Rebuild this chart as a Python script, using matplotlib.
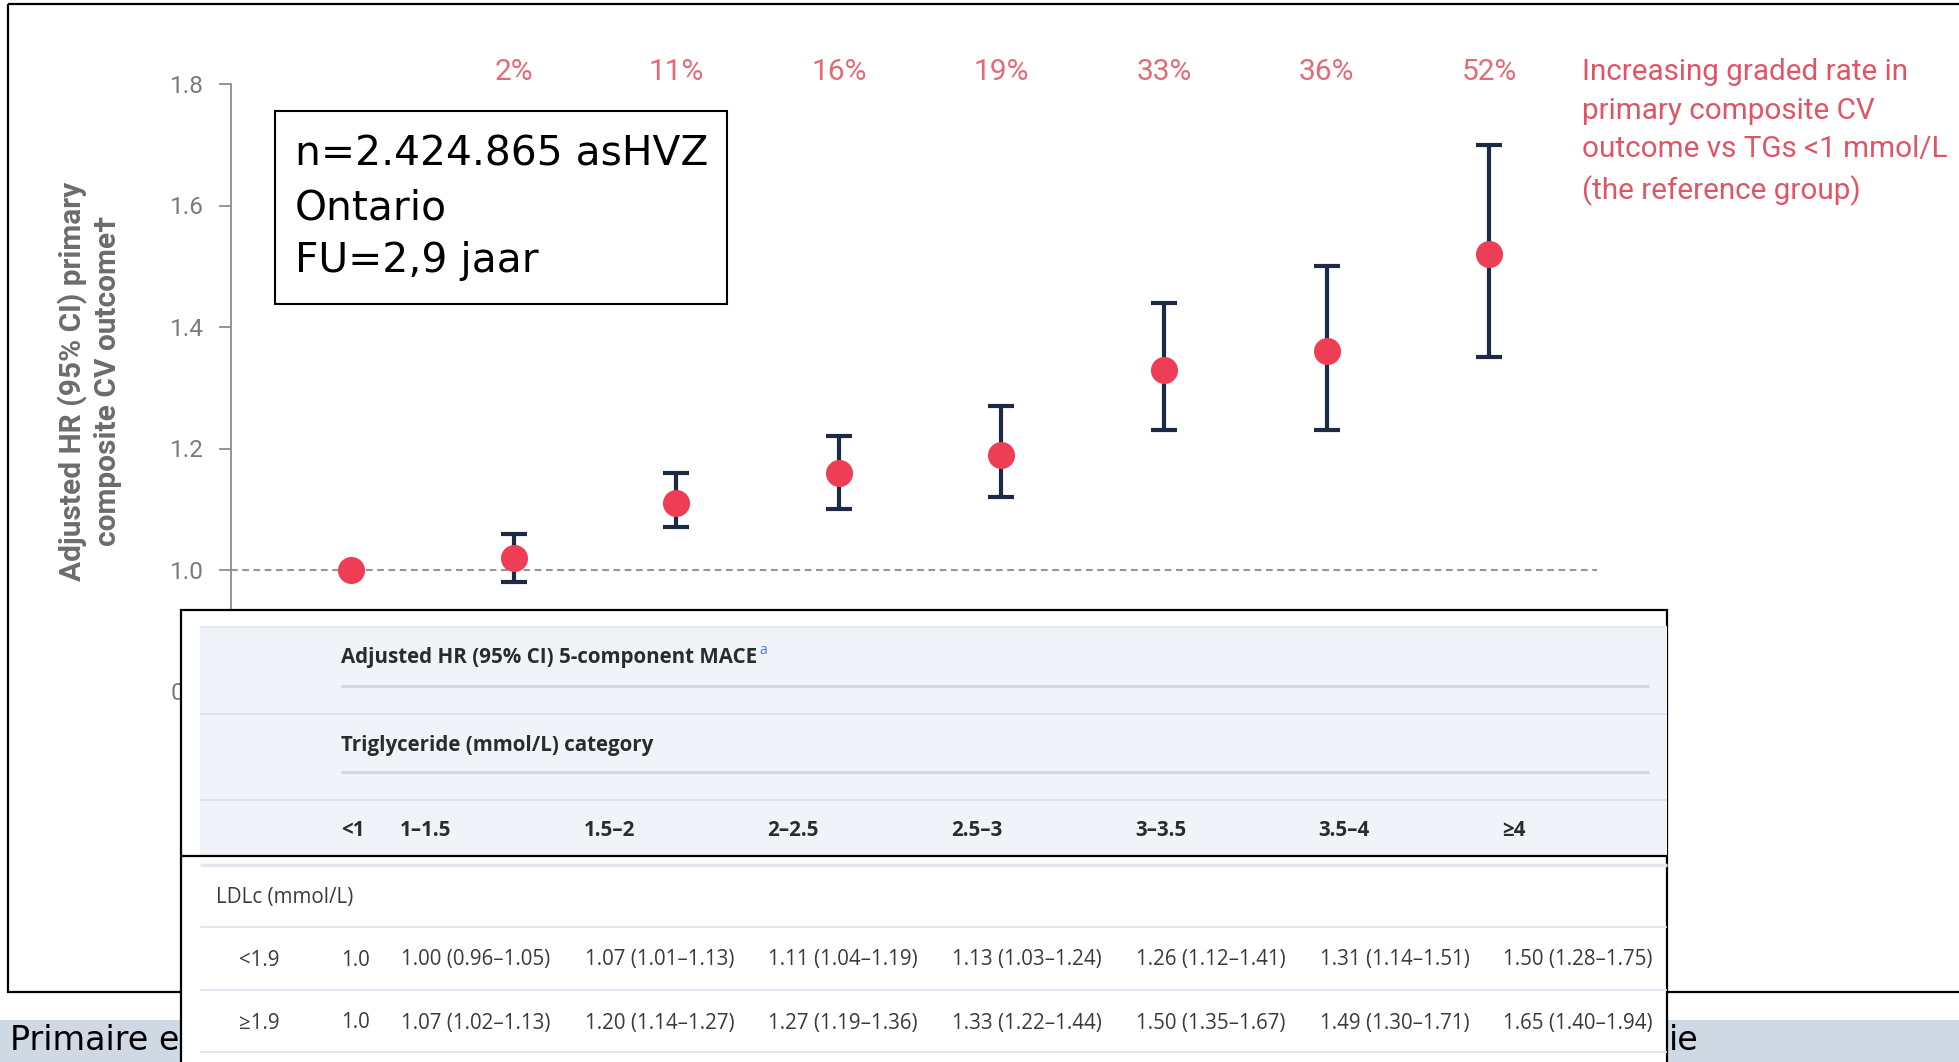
import math
import os
import matplotlib
matplotlib.use("Agg")
import matplotlib.pyplot as plt
from matplotlib import font_manager as fm
from matplotlib.patches import Rectangle
from matplotlib.transforms import blended_transform_factory

W, H, DPI = 1959, 1062, 100

# Triglyceride categories (mmol/L)
TG_CATEGORIES = ["<1", "1–1.5", "1.5–2", "2–2.5", "2.5–3", "3–3.5", "3.5–4", "≥4"]
# Adjusted HR (95% CI) for the primary composite CV outcome; <1 is the reference group
HR = [1.00, 1.02, 1.11, 1.16, 1.19, 1.33, 1.36, 1.52]
CI_LOW = [math.nan, 0.98, 1.07, 1.10, 1.12, 1.23, 1.23, 1.35]
CI_HIGH = [math.nan, 1.06, 1.16, 1.22, 1.27, 1.44, 1.50, 1.70]
REF_HR = 1.0
Y_TICKS = [0.8, 1.0, 1.2, 1.4, 1.6, 1.8]

INFO_LINES = ["n=2.424.865 asHVZ", "Ontario", "FU=2,9 jaar"]
NOTE_TEXT = "Increasing graded rate in\nprimary composite CV\noutcome vs TGs <1 mmol/L\n(the reference group)"
Y_LABEL = "Adjusted HR (95% CI) primary\ncomposite CV outcome†"

# Table: adjusted HR (95% CI) 5-component MACE by LDLc stratum
TABLE_TITLE = "Adjusted HR (95% CI) 5-component MACE"
TABLE_SUBTITLE = "Triglyceride (mmol/L) category"
LDL_HEADER = "LDLc (mmol/L)"
LDL_GROUPS = ["<1.9", "≥1.9"]
TABLE_REF = 1.0
MACE_HR = [
    [1.00, 1.07, 1.11, 1.13, 1.26, 1.31, 1.50],
    [1.07, 1.20, 1.27, 1.33, 1.50, 1.49, 1.65],
]
MACE_LOW = [
    [0.96, 1.01, 1.04, 1.03, 1.12, 1.14, 1.28],
    [1.02, 1.14, 1.19, 1.22, 1.35, 1.30, 1.40],
]
MACE_HIGH = [
    [1.05, 1.13, 1.19, 1.24, 1.41, 1.51, 1.75],
    [1.13, 1.27, 1.36, 1.44, 1.67, 1.71, 1.94],
]

FOOTER_LEFT = "Primaire e"
FOOTER_RIGHT = "ie"

RED = "#ee3e55"
NAVY = "#1d2a45"
PINK = "#e46a77"
GREY = "#7a7a7a"


def family_with_static_bold(candidates):
    """First candidate family that ships a separate (static) bold font file."""
    for fam in candidates:
        try:
            path = fm.findfont(fm.FontProperties(family=fam, weight="bold"), fallback_to_default=False)
        except Exception:
            continue
        base = os.path.basename(path).lower()
        if "bold" in base and "[" not in base:
            return fam
    return "DejaVu Sans"


CHART_FONT = ["Roboto", "DejaVu Sans"]
TABLE_FONT = [family_with_static_bold(["Noto Sans", "Open Sans", "Lato", "Roboto"]), "DejaVu Sans"]
BOX_FONT = ["DejaVu Sans"]

fig = plt.figure(figsize=(W / DPI, H / DPI), dpi=DPI)
fig.patch.set_facecolor("white")


def fx(px):
    return px / W


def fy(py):
    return 1 - py / H


# ---- background layer (pixel coordinates) ----
bg = fig.add_axes([0, 0, 1, 1], zorder=0)
bg.set_xlim(0, W)
bg.set_ylim(H, 0)
bg.axis("off")
bg.add_patch(Rectangle((8, 4), W, 988, fill=False, ec="black", lw=1.6))
bg.add_patch(Rectangle((0, 1020), W, 50, fc="#cfd9e4", ec="none"))
bg.text(10, 1041, FOOTER_LEFT, fontsize=24, va="center", ha="left", family=BOX_FONT, color="black")
bg.text(1669, 1041, FOOTER_RIGHT, fontsize=24, va="center", ha="left", family=BOX_FONT, color="black")

# ---- chart ----
X0_PX, X_STEP = 351, 162.6
Y1_PX, Y_UNIT = 570, 607.5
XLIM = (-0.738, 7.7)
YLIM = (0.75, 1.8)
left_px = X0_PX + XLIM[0] * X_STEP
right_px = X0_PX + XLIM[1] * X_STEP
top_px = Y1_PX - (YLIM[1] - 1) * Y_UNIT
bot_px = Y1_PX + (1 - YLIM[0]) * Y_UNIT
ax = fig.add_axes([fx(left_px), fy(bot_px), (right_px - left_px) / W, (bot_px - top_px) / H], zorder=1)
ax.patch.set_alpha(0)
ax.set_xlim(*XLIM)
ax.set_ylim(*YLIM)

xs = list(range(len(TG_CATEGORIES)))
idx = [i for i in xs if not math.isnan(CI_LOW[i])]
ax.hlines(REF_HR, XLIM[0], 7.663, colors="#8f96a3", linestyles=(0, (3.2, 2.2)), lw=1.5, zorder=1)
ax.errorbar([xs[i] for i in idx], [HR[i] for i in idx],
            yerr=[[HR[i] - CI_LOW[i] for i in idx], [CI_HIGH[i] - HR[i] for i in idx]],
            fmt="none", ecolor=NAVY, elinewidth=3.0, capsize=9.7, capthick=3.0, zorder=2)
ax.plot(xs, HR, "o", ms=19.5, color=RED, mec="none", zorder=3)

for s in ("top", "right", "bottom"):
    ax.spines[s].set_visible(False)
ax.spines["left"].set_color("#8c8c8c")
ax.spines["left"].set_linewidth(1.3)
ax.set_xticks([])
ax.set_yticks(Y_TICKS)
ax.set_yticklabels([f"{t:.1f}" for t in Y_TICKS], family=CHART_FONT)
ax.tick_params(axis="y", direction="out", length=8.6, width=1.3, color="#8c8c8c",
               labelcolor=GREY, labelsize=17.5, pad=10.8)

pct_trans = blended_transform_factory(ax.transData, fig.transFigure)
for i in xs[1:]:
    ax.text(i, fy(72), f"{round((HR[i] - REF_HR) * 100)}%", transform=pct_trans,
            ha="center", va="center", color=PINK, fontsize=21.5, family=CHART_FONT, clip_on=False)

fig.text(fx(1582), fy(132), NOTE_TEXT, ha="left", va="center", linespacing=1.48,
         fontsize=21.3, color="#e05566", family=CHART_FONT)
fig.text(fx(90), fy(381), Y_LABEL, rotation=90, ha="center", va="center", multialignment="center",
         fontsize=21.5, fontweight="bold", color="#6c6c6c", linespacing=1.3, family=CHART_FONT)

# ---- overlay layer: info box and table ----
ov = fig.add_axes([0, 0, 1, 1], zorder=2)
ov.patch.set_alpha(0)
ov.set_xlim(0, W)
ov.set_ylim(H, 0)
ov.axis("off")

ov.add_patch(Rectangle((275, 111), 452, 193, fc="white", ec="black", lw=1.5))
ov.text(295, 208, "\n".join(INFO_LINES), ha="left", va="center", fontsize=29.3,
        linespacing=1.42, family=BOX_FONT, color="black")

T_LEFT, T_RIGHT, T_TOP = 181, 1667, 610
IN_LEFT = 200
ov.add_patch(Rectangle((T_LEFT, T_TOP), T_RIGHT - T_LEFT, H, fc="white", ec="black", lw=1.6, zorder=1))
ov.add_patch(Rectangle((IN_LEFT, 627), T_RIGHT - IN_LEFT, 856 - 627, fc="#f0f3f8", ec="none", zorder=1.1))

SEP = "#dde3ee"
ov.hlines(627, IN_LEFT, T_RIGHT, colors="#e4e8ef", lw=1.5, zorder=1.2)
ov.hlines([714, 800], IN_LEFT, T_RIGHT, colors=SEP, lw=1.3, zorder=1.2)
ov.hlines([686, 772], 341, 1649, colors="#d2d8e4", lw=2.2, zorder=1.2)
ov.hlines(865, IN_LEFT, T_RIGHT, colors="#e3e8f0", lw=2.5, zorder=1.2)
ov.hlines([927, 990, 1052], IN_LEFT, T_RIGHT, colors=SEP, lw=1.3, zorder=1.2)
ov.hlines(856, T_LEFT, T_RIGHT, colors="black", lw=1.6, zorder=1.3)

HEAD_C = "#2b2b2b"
BODY_C = "#3a3a3a"
FS = 14.8
title = ov.text(341, 658, TABLE_TITLE, ha="left", va="center", fontsize=FS, fontweight="bold",
                color=HEAD_C, family=TABLE_FONT, zorder=2)
ov.annotate("a", xy=(1, 1), xycoords=title, xytext=(1.5, 3), textcoords="offset points",
            ha="left", va="top", fontsize=10, color="#3b7dd8", family=TABLE_FONT, zorder=2)
ov.text(341, 745, TABLE_SUBTITLE, ha="left", va="center", fontsize=FS, fontweight="bold",
        color=HEAD_C, family=TABLE_FONT, zorder=2)

COL0, COL_STEP = 400, 183.7
ov.text(341, 831, TG_CATEGORIES[0], ha="left", va="center", fontsize=FS, fontweight="bold",
        color=HEAD_C, family=TABLE_FONT, zorder=2)
for j, cat in enumerate(TG_CATEGORIES[1:]):
    ov.text(COL0 + j * COL_STEP, 831, cat, ha="left", va="center", fontsize=FS, fontweight="bold",
            color=HEAD_C, family=TABLE_FONT, zorder=2)

ov.text(216, 897, LDL_HEADER, ha="left", va="center", fontsize=FS, color=BODY_C,
        family=TABLE_FONT, zorder=2)
for r, (grp, row_y) in enumerate(zip(LDL_GROUPS, [960, 1023])):
    ov.text(239, row_y, grp, ha="left", va="center", fontsize=FS, color=BODY_C,
            family=TABLE_FONT, zorder=2)
    ov.text(341, row_y, f"{TABLE_REF:.1f}", ha="left", va="center", fontsize=FS, color=BODY_C,
            family=TABLE_FONT, zorder=2)
    for j in range(len(MACE_HR[r])):
        cell = f"{MACE_HR[r][j]:.2f} ({MACE_LOW[r][j]:.2f}–{MACE_HIGH[r][j]:.2f})"
        ov.text(COL0 + 1 + j * COL_STEP, row_y, cell, ha="left", va="center", fontsize=FS,
                color=BODY_C, family=TABLE_FONT, zorder=2)

fig.savefig("out.png", dpi=DPI, facecolor="white")
